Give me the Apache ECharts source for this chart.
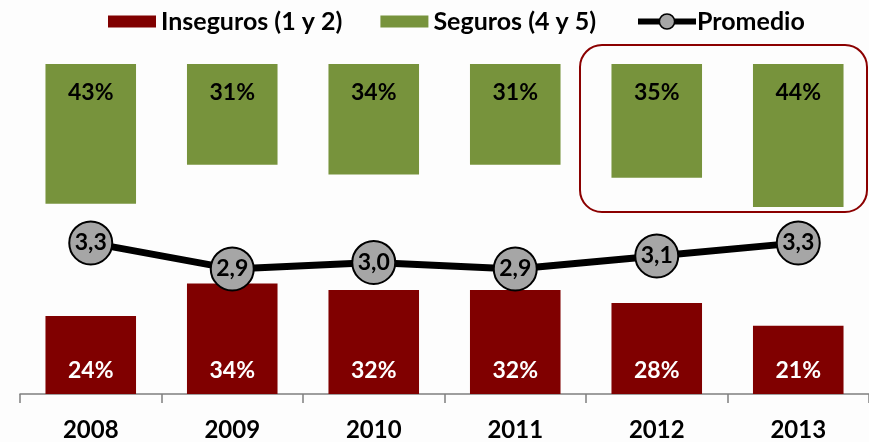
<!DOCTYPE html>
<html>
<head>
<meta charset="utf-8">
<script src="https://cdn.jsdelivr.net/npm/echarts@6/dist/echarts.min.js"></script>
<style>
  html, body { margin: 0; padding: 0; background: #fdfdfd; }
  #chart { width: 869px; height: 442px; }
</style>
</head>
<body>
<div id="chart"></div>
<script>
// Survey results by year: share of unsafe (1-2) and safe (4-5) answers, plus the average score
const years = ['2008', '2009', '2010', '2011', '2012', '2013'];
const inseguros = [24, 34, 32, 32, 28, 21];
const seguros = [43, 31, 34, 31, 35, 44];
const promedio = [3.3, 2.9, 3.0, 2.9, 3.1, 3.3];
// years grouped inside the highlight frame
const highlighted = ['2012', '2013'];

const FONT = "Lato, 'Open Sans', sans-serif";
const RED = '#800000';
const GREEN = '#77933c';

const chart = echarts.init(document.getElementById('chart'), null, { renderer: 'canvas' });

const legendText = { fontFamily: FONT, fontSize: 25, fontWeight: 'bold', color: '#000' };

const option = {
  backgroundColor: '#fdfdfd',
  animation: false,
  textStyle: { fontFamily: FONT },
  legend: [
    {
      // bar series keys
      top: 4,
      left: 103,
      itemWidth: 48,
      itemHeight: 12,
      itemGap: 38,
      textStyle: legendText,
      data: [
        { name: 'Inseguros (1 y 2)', icon: 'rect' },
        { name: 'Seguros (4 y 5)', icon: 'rect' }
      ]
    },
    {
      // average line key
      top: 4,
      left: 630,
      itemWidth: 58,
      itemHeight: 19,
      textStyle: Object.assign({ padding: [0, 0, 0, -4] }, legendText),
      data: [
        {
          name: 'Promedio',
          lineStyle: { color: '#000', width: 6 },
          itemStyle: { color: '#a6a6a6', borderColor: '#000', borderWidth: 1.5 }
        }
      ]
    }
  ],
  grid: { left: 20, right: 0, top: 64, bottom: 48 },
  xAxis: {
    type: 'category',
    data: years,
    boundaryGap: true,
    axisLine: { lineStyle: { color: '#7f7f7f', width: 1.5 } },
    axisTick: { show: true, length: 9, lineStyle: { color: '#7f7f7f', width: 1.5 } },
    axisLabel: { margin: 24, fontFamily: FONT, fontSize: 24, fontWeight: 'bold', color: '#000' }
  },
  yAxis: [
    { type: 'value', min: 0, max: 101.5, show: false },
    { type: 'value', min: 0, max: 101.5, inverse: true, show: false },
    { type: 'value', min: 0.977, max: 6.05, show: false }
  ],
  series: [
    {
      name: 'Inseguros (1 y 2)',
      type: 'bar',
      yAxisIndex: 0,
      data: inseguros,
      barWidth: '64%',
      barGap: '-100%',
      itemStyle: { color: RED },
      label: {
        show: true,
        position: 'insideBottom',
        distance: 12,
        formatter: p => p.value + '%',
        fontFamily: FONT, fontSize: 23, fontWeight: 'bold', color: '#fff'
      }
    },
    {
      name: 'Seguros (4 y 5)',
      type: 'bar',
      yAxisIndex: 1,
      data: seguros,
      barWidth: '64%',
      barGap: '-100%',
      itemStyle: { color: GREEN },
      label: {
        show: true,
        position: 'insideTop',
        distance: 17,
        formatter: p => p.value + '%',
        fontFamily: FONT, fontSize: 23, fontWeight: 'bold', color: '#000'
      }
    },
    {
      name: 'Promedio',
      type: 'line',
      yAxisIndex: 2,
      data: promedio,
      z: 5,
      symbol: 'circle',
      symbolSize: 43,
      lineStyle: { color: '#000', width: 7 },
      itemStyle: { color: '#a6a6a6', borderColor: '#000', borderWidth: 2 },
      label: {
        show: true,
        position: 'inside',
        formatter: p => p.value.toFixed(1).replace('.', ','),
        fontFamily: FONT, fontSize: 23, fontWeight: 'bold', color: '#000'
      }
    }
  ]
};

chart.setOption(option);

// Rounded frame around the highlighted years, placed from the axis scales
function drawFrame() {
  const xs = highlighted.map(y => chart.convertToPixel({ xAxisIndex: 0 }, y));
  const step = chart.convertToPixel({ xAxisIndex: 0 }, years[1]) - chart.convertToPixel({ xAxisIndex: 0 }, years[0]);
  const left = Math.min(...xs) - step / 2 - 6;
  const right = Math.max(...xs) + step / 2 - 2;
  const topY = chart.convertToPixel({ yAxisIndex: 1 }, 0) - 19;
  const maxSeg = Math.max(...highlighted.map(y => seguros[years.indexOf(y)]));
  const bottomY = chart.convertToPixel({ yAxisIndex: 1 }, maxSeg) + 5;
  chart.setOption({
    graphic: [{
      type: 'rect',
      z: 10,
      shape: { x: left, y: topY, width: right - left, height: bottomY - topY, r: 22 },
      style: { fill: 'none', stroke: '#8b0000', lineWidth: 2 }
    }]
  });
}
drawFrame();
</script>
</body>
</html>
